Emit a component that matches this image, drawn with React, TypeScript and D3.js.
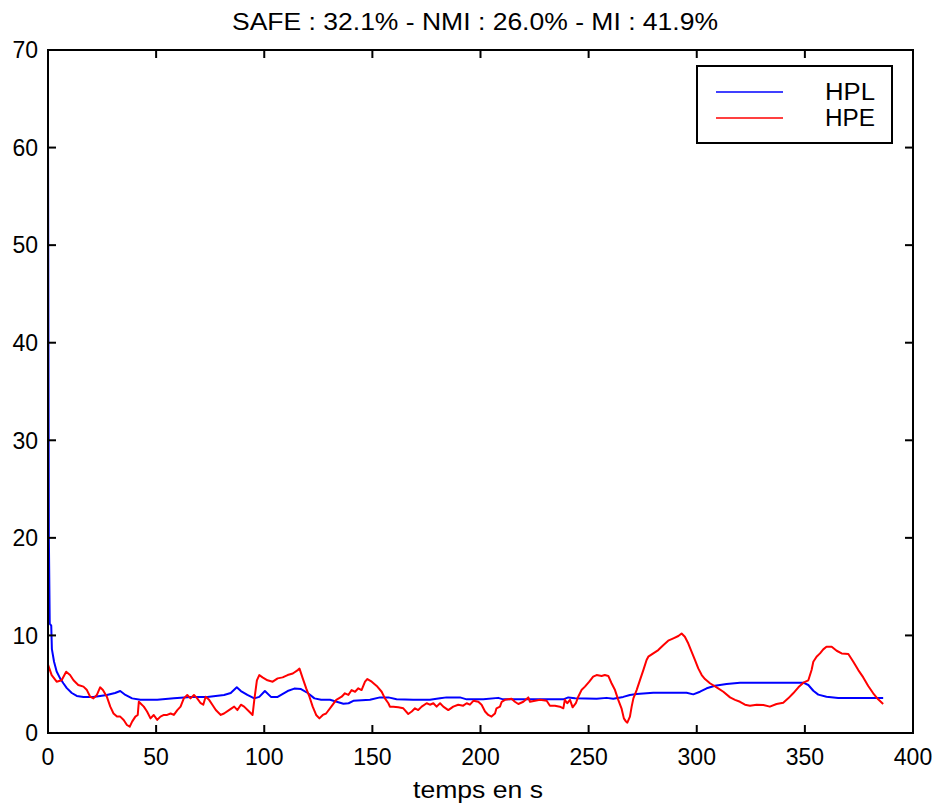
import React from "react";
import * as d3 from "d3";

const titleText = "SAFE : 32.1% - NMI : 26.0% - MI : 41.9%";
const xLabel = "temps en s";
const xTicks = [0, 50, 100, 150, 200, 250, 300, 350, 400];
const yTicks = [0, 10, 20, 30, 40, 50, 60, 70];
const seriesNames = ["HPL", "HPE"];
const seriesColors = ["#0000ff", "#ff0000"];

const hplT = [0, 0.4, 0.8, 1.5, 1.8, 2.8, 4.0, 5.6, 7.1, 8.7, 11, 13.3, 16.4, 21, 27.2, 31, 33.4, 35.8, 38.9, 42.7, 50.5, 58.2, 66, 73.7, 81.4, 84.5, 87.3, 89.2, 92.2, 95.4, 97.7, 100.3, 103.1, 106.2, 110.8, 113.9, 117, 120.1, 123.2, 126.3, 130.4, 133.5, 136.6, 139, 141.2, 148.9, 153.5, 157.4, 161.2, 168.9, 176.6, 181.3, 184.3, 190.5, 193.6, 201.3, 208.2, 210.5, 222.9, 238.3, 240.6, 243.7, 253.7, 258.3, 261.4, 266, 269.1, 272.2, 279.9, 295.3, 298.4, 301.5, 304.6, 308.4, 313.8, 320, 333.8, 349.3, 351.6, 353.9, 356.2, 360, 365.4, 372.4, 386.2];
const hplV = [61.5, 20, 11.2, 11.0, 8.6, 7.3, 6.3, 5.6, 5.1, 4.6, 4.1, 3.8, 3.7, 3.7, 3.9, 4.1, 4.3, 3.9, 3.55, 3.4, 3.4, 3.55, 3.7, 3.7, 3.9, 4.1, 4.68, 4.3, 3.9, 3.55, 3.7, 4.3, 3.7, 3.7, 4.3, 4.55, 4.5, 4.1, 3.55, 3.4, 3.4, 3.2, 3.0, 3.05, 3.3, 3.4, 3.65, 3.65, 3.45, 3.4, 3.4, 3.55, 3.65, 3.65, 3.45, 3.45, 3.6, 3.45, 3.45, 3.45, 3.65, 3.55, 3.5, 3.6, 3.5, 3.7, 3.9, 4.0, 4.13, 4.13, 3.96, 4.23, 4.58, 4.85, 5.02, 5.16, 5.16, 5.16, 4.92, 4.33, 3.93, 3.72, 3.58, 3.58, 3.58];

const hpeT = [0, 1.7, 4, 6.3, 8.4, 10.2, 11.8, 14, 16.4, 18, 19.5, 21, 22.6, 24.1, 25.4, 27.2, 28.8, 30.3, 31.9, 33.4, 35, 36.5, 37.8, 38.9, 40.4, 41.5, 42, 42.7, 44.3, 45.8, 47.4, 48.9, 50.5, 52, 53.6, 55.1, 56.7, 58.2, 59.8, 61.3, 62.8, 64.4, 65.9, 67.5, 69, 70.6, 71.8, 72.9, 74.5, 76, 77.6, 79.9, 81.4, 83.7, 86.1, 87.6, 89.2, 90.7, 93, 94.6, 95.4, 96.6, 97.7, 99.2, 101.5, 103.9, 106.2, 108.5, 110.8, 113.2, 115.5, 116.3, 117.8, 119.4, 120.9, 122.4, 124, 125.5, 127.1, 128.6, 131, 133.3, 135.8, 137.3, 138.9, 140.4, 142, 143.5, 145, 146.6, 147.7, 149.7, 152, 154.3, 155.8, 157.4, 158.1, 159.7, 162, 164.3, 166.6, 168.2, 169.7, 171.2, 172.8, 175.1, 176.6, 178.2, 179.7, 181.3, 182.8, 185.1, 187.4, 189.7, 192, 193.6, 195.1, 196.7, 199, 200.5, 202.1, 203.6, 205.1, 206.7, 207.4, 209, 209.8, 211.3, 214.4, 215.9, 217.5, 219.8, 222.1, 222.9, 225.2, 227.5, 230.6, 232.1, 234.4, 236.7, 238.3, 239, 240.1, 241.4, 242.6, 244.1, 245.2, 246.7, 248.3, 250.3, 252.1, 253.7, 256, 257.5, 259.1, 260.6, 262.2, 263.7, 265.2, 266.3, 267.3, 267.9, 269.1, 269.9, 270.7, 272.2, 273.7, 275.3, 276.8, 277.6, 279.9, 282.2, 284.5, 286.8, 289.2, 291.5, 293, 294.5, 296.1, 297.6, 299.2, 300.7, 302.3, 303.8, 306.1, 309.2, 312.3, 315.4, 317.7, 320, 322.3, 324.6, 327.7, 330.8, 333.8, 336.9, 340, 342.3, 344.6, 347, 349.3, 351.6, 353.1, 353.9, 355.4, 357, 358.5, 360, 362.4, 364.7, 367, 370.1, 372.4, 374.7, 377, 379.3, 381.6, 383.9, 386.2];
const hpeV = [7.0, 5.94, 5.26, 5.4, 6.28, 5.94, 5.4, 4.92, 4.75, 4.4, 3.72, 3.55, 3.9, 4.68, 4.4, 3.72, 2.7, 2.0, 1.68, 1.68, 1.34, 0.82, 0.65, 1.17, 1.68, 1.85, 3.2, 3.05, 2.7, 2.2, 1.5, 1.85, 1.34, 1.68, 1.85, 1.85, 2.0, 1.85, 2.35, 2.7, 3.55, 3.9, 3.55, 3.9, 3.55, 3.05, 2.9, 3.72, 3.4, 2.9, 2.35, 1.85, 2.0, 2.35, 2.7, 2.35, 2.9, 2.7, 2.2, 1.85, 3.4, 5.4, 5.94, 5.7, 5.4, 5.26, 5.6, 5.7, 5.94, 6.1, 6.45, 6.6, 5.6, 4.58, 3.72, 2.7, 1.85, 1.5, 1.85, 2.0, 2.7, 3.4, 3.72, 4.07, 3.9, 4.4, 4.23, 4.58, 4.4, 5.26, 5.53, 5.26, 4.82, 4.23, 3.55, 3.05, 2.7, 2.7, 2.63, 2.53, 1.95, 2.2, 2.53, 2.35, 2.7, 3.05, 2.9, 3.05, 2.7, 3.05, 2.7, 2.35, 2.7, 2.9, 2.8, 3.05, 2.9, 3.3, 3.2, 2.9, 2.2, 1.85, 1.68, 2.0, 2.53, 2.7, 3.2, 3.4, 3.5, 3.2, 2.97, 3.2, 3.65, 3.2, 3.3, 3.4, 3.3, 2.8, 2.8, 2.7, 2.53, 3.4, 3.05, 3.4, 2.63, 3.05, 3.72, 4.4, 4.75, 5.26, 5.77, 5.94, 5.85, 5.94, 5.85, 5.1, 4.4, 3.4, 2.53, 1.5, 1.17, 1.06, 1.68, 2.7, 3.55, 4.4, 5.4, 6.45, 7.48, 7.82, 8.16, 8.5, 9.0, 9.46, 9.7, 9.94, 10.2, 9.87, 9.17, 8.33, 7.48, 6.62, 5.94, 5.53, 5.1, 4.68, 4.23, 3.65, 3.4, 3.2, 2.9, 2.8, 2.9, 2.87, 2.7, 2.97, 3.1, 3.55, 4.07, 4.68, 5.16, 5.4, 6.45, 7.3, 7.82, 8.16, 8.57, 8.85, 8.85, 8.43, 8.16, 8.09, 7.3, 6.45, 5.7, 4.82, 4.07, 3.45, 2.97];

const W = 942;
const H = 807;
const FONT = "'Liberation Sans', Arial, sans-serif";
const margin = { left: 48, right: 29, top: 50, bottom: 74 };

export default function App() {
  const x = d3.scaleLinear().domain([0, 400]).range([margin.left, W - margin.right]);
  const y = d3.scaleLinear().domain([0, 70]).range([H - margin.bottom, margin.top]);
  const mk = (ts: number[], vs: number[]) =>
    d3
      .line<number>()
      .x((t) => x(t))
      .y((_, i) => y(vs[i]))(ts) || "";
  const x0 = x(0), x1 = x(400), y0 = y(0), y1 = y(70);
  const tl = 8;
  const lg = { x: 697, y: 66, w: 195, h: 77 };
  return (
    <svg
      width={W}
      height={H}
      style={{ position: "absolute", left: 0, top: 0, background: "#fff" }}
      fontFamily={FONT}
    >
      <rect x={0} y={0} width={W} height={H} fill="#fff" />
      <text x={475} y={29.5} fontSize={23} textAnchor="middle" fill="#000" textLength={486} lengthAdjust="spacingAndGlyphs">
        {titleText}
      </text>
      <path d={mk(hplT, hplV)} fill="none" stroke={seriesColors[0]} strokeWidth={2} strokeLinejoin="round" />
      <path d={mk(hpeT, hpeV)} fill="none" stroke={seriesColors[1]} strokeWidth={2} strokeLinejoin="round" />
      {xTicks.map((t) => (
        <g key={"x" + t}>
          <line x1={x(t)} x2={x(t)} y1={y0} y2={y0 - tl} stroke="#000" strokeWidth={2} />
          <line x1={x(t)} x2={x(t)} y1={y1} y2={y1 + tl} stroke="#000" strokeWidth={2} />
          <text x={x(t)} y={765} fontSize={23} textAnchor="middle" fill="#000">
            {t}
          </text>
        </g>
      ))}
      {yTicks.map((v) => (
        <g key={"y" + v}>
          <line x1={x0} x2={x0 + tl} y1={y(v)} y2={y(v)} stroke="#000" strokeWidth={2} />
          <line x1={x1} x2={x1 - tl} y1={y(v)} y2={y(v)} stroke="#000" strokeWidth={2} />
          <text x={38} y={y(v) + 8.3} fontSize={23} textAnchor="end" fill="#000">
            {v}
          </text>
        </g>
      ))}
      <rect x={x0} y={y1} width={x1 - x0} height={y0 - y1} fill="none" stroke="#000" strokeWidth={2} />
      <text x={478} y={798} fontSize={23} textAnchor="middle" fill="#000" textLength={130} lengthAdjust="spacingAndGlyphs">
        {xLabel}
      </text>
      <rect x={lg.x} y={lg.y} width={lg.w} height={lg.h} fill="#fff" stroke="#000" strokeWidth={2} />
      {seriesNames.map((n, i) => (
        <g key={n}>
          <line x1={716} x2={783} y1={92 + i * 26} y2={92 + i * 26} stroke={seriesColors[i]} strokeWidth={1.5} />
          <text x={850} y={100 + i * 25.7} fontSize={23} textAnchor="middle" fill="#000" textLength={50} lengthAdjust="spacingAndGlyphs">
            {n}
          </text>
        </g>
      ))}
    </svg>
  );
}
